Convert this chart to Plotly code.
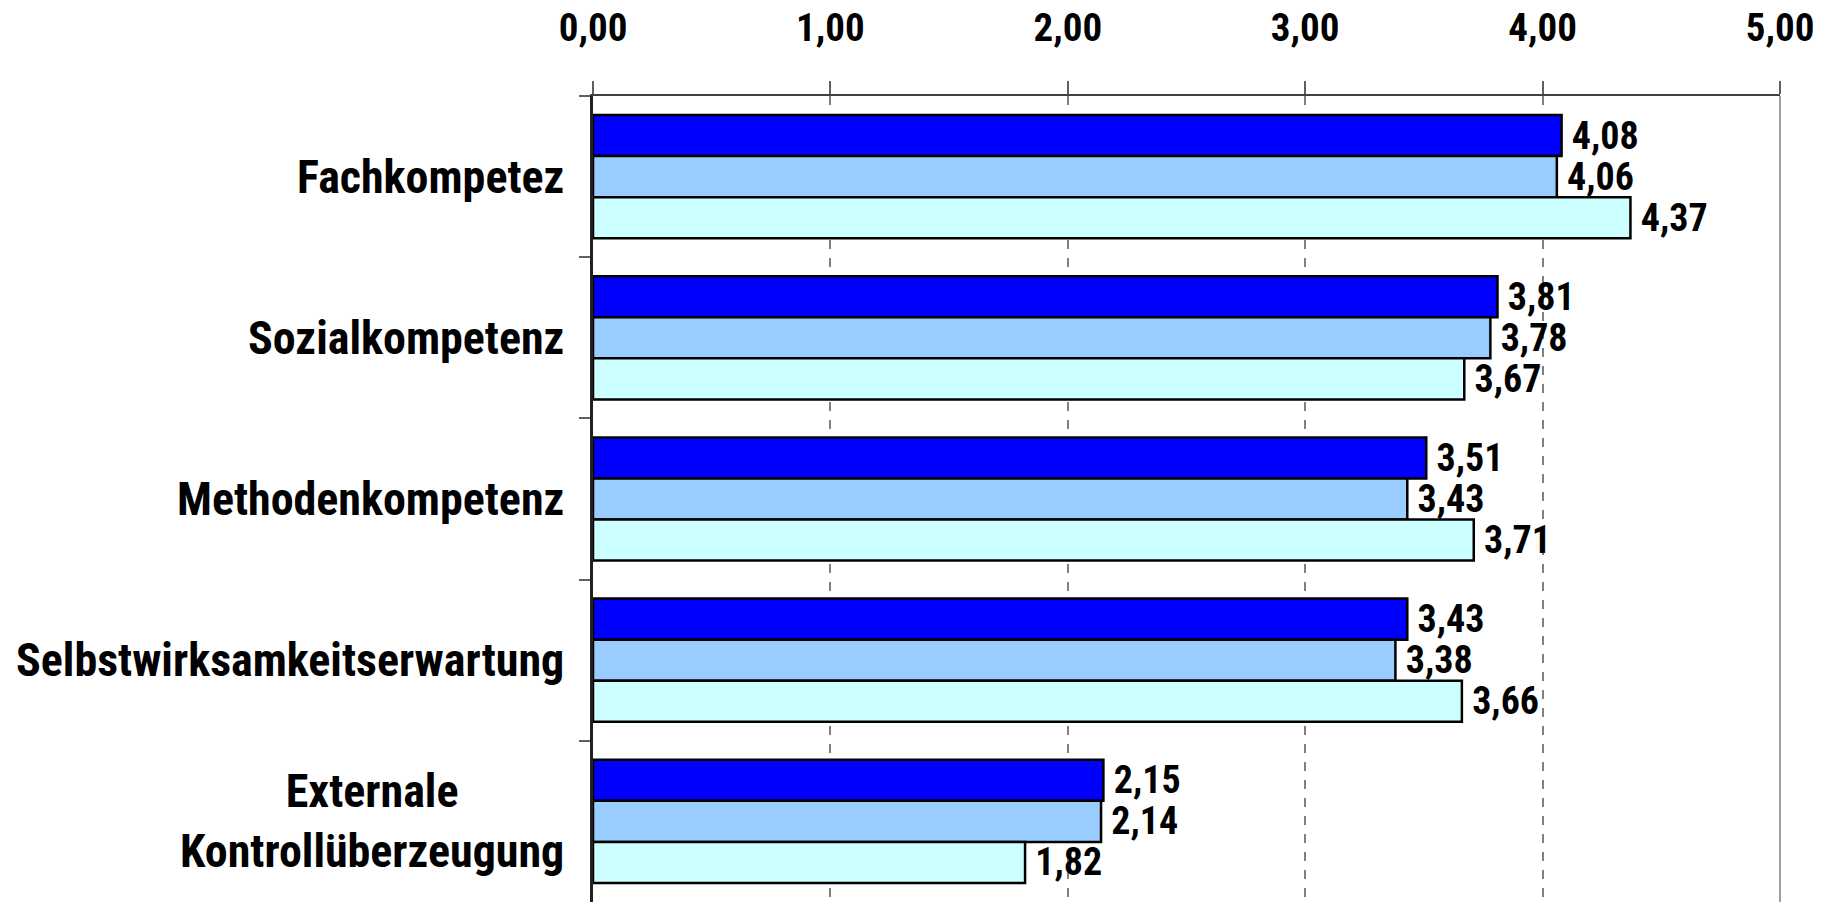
import plotly.graph_objects as go

# Kompetenzbereiche (von oben nach unten)
categories = [
    "Fachkompetez",
    "Sozialkompetenz",
    "Methodenkompetenz",
    "Selbstwirksamkeitserwartung",
    "Externale<br>Kontrollüberzeugung",
]

# Mittelwerte der drei Gruppen
series_dark = [4.08, 3.81, 3.51, 3.43, 2.15]
series_mid = [4.06, 3.78, 3.43, 3.38, 2.14]
series_light = [4.37, 3.67, 3.71, 3.66, 1.82]

series_names = ["Gruppe A", "Gruppe B", "Gruppe C"]
series_values = [series_dark, series_mid, series_light]
series_colors = ["#0000FF", "#99CCFF", "#CCFFFF"]

x_ticks = [0, 1, 2, 3, 4, 5]

FONT = "Liberation Sans Narrow, Arial Narrow, Roboto Condensed, sans-serif"


def fmt(v):
    return f"{v:.2f}".replace(".", ",")


fig = go.Figure()
for name, vals, color in zip(series_names, series_values, series_colors):
    fig.add_trace(go.Bar(
        y=categories,
        x=vals,
        name=name,
        orientation="h",
        marker=dict(color=color, line=dict(color="#000000", width=2.5)),
        text=["\u2009" + fmt(v) for v in vals],
        textposition="outside",
        constraintext="none",
        cliponaxis=False,
        textfont=dict(family=FONT, size=38, color="#000000", weight="bold"),
        showlegend=False,
    ))

# Kategorienbeschriftungen links, mehrzeilig zentriert
for cat in categories:
    fig.add_annotation(
        x=0, xref="paper", y=cat, yref="y",
        text=cat, showarrow=False,
        xanchor="right", yanchor="middle", align="center",
        xshift=-27,
        font=dict(family=FONT, size=46, color="#000000", weight="bold"),
    )

# rechter Rahmen
fig.add_shape(type="line", xref="paper", yref="paper", x0=1, x1=1, y0=0, y1=1,
              line=dict(color="#A0A0A0", width=2))

fig.update_layout(
    width=1824,
    height=902,
    margin=dict(l=593, r=44, t=96, b=0),
    paper_bgcolor="#FFFFFF",
    plot_bgcolor="#FFFFFF",
    barmode="group",
    bargap=0.236,
    bargroupgap=0,
    separators=", ",
    xaxis=dict(
        side="top",
        range=[0, 5],
        tickvals=x_ticks,
        tickformat=".2f",
        showgrid=True,
        gridcolor="#808080",
        gridwidth=1.5,
        griddash="dash",
        zeroline=False,
        showline=True,
        linecolor="#404040",
        linewidth=2,
        ticks="outside",
        ticklen=13,
        tickwidth=2,
        tickcolor="#606060",
        ticklabelstandoff=24,
        tickfont=dict(family=FONT, size=39, color="#000000", weight="bold"),
        automargin=False,
    ),
    yaxis=dict(
        autorange="reversed",
        showticklabels=False,
        ticks="outside",
        tickson="boundaries",
        ticklen=11,
        tickwidth=2,
        tickcolor="#606060",
        showgrid=False,
        zeroline=False,
        showline=True,
        linecolor="#202020",
        linewidth=2.5,
        automargin=False,
    ),
)

fig.write_html("out.html")
